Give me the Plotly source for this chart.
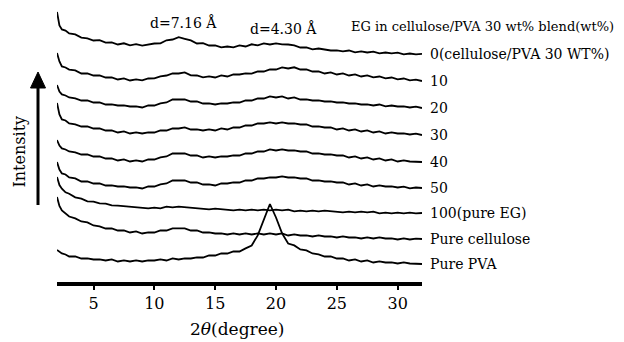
import plotly.graph_objects as go

# 2-theta sampling (degree)
two_theta = [2.0, 2.2, 2.4, 2.7, 3.0, 3.5, 4.0, 4.5, 5.0, 5.5, 6.0, 6.5, 7.0, 7.5, 8.0,
             8.5, 9.0, 9.5, 10.0, 10.5, 11.0, 11.5, 12.0, 12.5, 13.0, 13.5, 14.0, 14.5,
             15.0, 15.5, 16.0, 16.5, 17.0, 17.5, 18.0, 18.5, 19.0, 19.5, 20.0, 20.5,
             21.0, 21.5, 22.0, 22.5, 23.0, 23.5, 24.0, 24.5, 25.0, 25.5, 26.0, 26.5,
             27.0, 27.5, 28.0, 28.5, 29.0, 29.5, 30.0, 30.5, 31.0, 31.5, 32.0]

series_labels = ["0(cellulose/PVA 30 WT%)", "10", "20", "30", "40", "50",
                 "100(pure EG)", "Pure cellulose", "Pure PVA"]

# relative intensities (a.u.)
eg0 = [42, 28.5, 24.6, 23.4, 20.5, 19.6, 16.4, 15.7, 13.5, 13.8, 11.4, 11.6, 9.5, 10.7, 8.6,
       9.8, 8.4, 9.6, 10.5, 10.6, 13.7, 14.5, 16.8, 15.2, 13.6, 10.5, 10.8, 8.5, 8.7, 6.6,
       7.5, 6.6, 8.6, 7.5, 9.7, 8.6, 10.6, 9.5, 10.7, 9.6, 9.5, 8.6, 6.5, 6.7, 4.6, 5.5,
       4.6, 3.5, 3.7, 2.6, 3.5, 1.6, 2.6, 1.5, 2.4, 0.6, 1.5, 0.6, 1.4, -0.4, 0.5, -0.3, 0.2]
eg10 = [28, 19.5, 14.6, 13.5, 11.4, 10.6, 7.5, 7.7, 5.5, 5.6, 3.5, 3.7, 1.5, 2.6, 0.5, 1.6,
        0.6, 2.5, 2.6, 4.7, 5.5, 7.6, 7.5, 8.6, 5.6, 5.5, 3.6, 4.7, 3.5, 5.6, 4.5, 6.6, 6.5,
        7.7, 7.4, 9.6, 9.5, 11.6, 11.5, 13.6, 12.5, 13.7, 11.5, 11.6, 9.5, 9.7, 7.5, 8.6,
        6.5, 7.6, 5.5, 6.6, 4.5, 5.6, 3.6, 4.5, 2.6, 3.5, 1.6, 2.5, 0.6, 1.4, 0]
eg20 = [23, 16.5, 13.6, 12.5, 10.5, 9.6, 7.5, 7.6, 5.5, 5.7, 3.5, 3.6, 2.5, 2.6, 1.5, 1.6,
        0.5, 2.6, 2.5, 4.6, 5.5, 8.6, 8.5, 8.7, 6.5, 6.6, 4.5, 4.6, 3.5, 4.7, 4.5, 5.6, 5.5,
        7.6, 7.5, 9.6, 9.5, 11.6, 10.5, 11.6, 9.5, 10.6, 8.5, 8.6, 7.5, 7.6, 6.5, 6.6, 5.5,
        5.6, 4.5, 4.6, 3.5, 3.6, 2.5, 3.5, 1.6, 2.5, 1.5, 1.6, 0.5, 1.4, 0]
eg30 = [32, 20.5, 15.6, 14.5, 11.5, 10.6, 8.5, 8.6, 6.5, 6.6, 4.5, 4.6, 2.5, 3.6, 1.5, 2.6,
        1.5, 2.6, 2.5, 4.6, 4.5, 6.6, 6.5, 7.6, 5.5, 5.6, 4.5, 5.6, 4.5, 6.6, 5.5, 7.6, 7.5,
        9.6, 9.5, 11.6, 11.5, 12.6, 11.5, 12.6, 11.5, 11.6, 10.5, 10.6, 8.5, 8.6, 7.5, 7.6,
        5.5, 6.6, 4.5, 5.6, 3.5, 4.6, 2.5, 3.6, 1.5, 2.6, 1.5, 1.6, 0.5, 1.4, 0]
eg40 = [22, 16.5, 13.6, 12.5, 10.5, 9.6, 7.5, 7.6, 5.5, 5.6, 3.5, 3.6, 1.5, 2.6, 0.5, 1.6,
        0.5, 2.6, 2.5, 4.6, 5.5, 8.6, 8.5, 8.6, 6.5, 6.6, 4.5, 5.6, 4.5, 5.6, 5.5, 6.6, 6.5,
        8.6, 8.5, 10.6, 10.5, 12.6, 11.5, 12.6, 11.5, 11.6, 10.5, 10.6, 8.5, 8.6, 7.5, 7.6,
        6.5, 6.6, 4.5, 5.6, 3.5, 4.6, 2.5, 3.6, 1.5, 2.6, 0.5, 1.6, 0.5, 0.4, 0]
eg50 = [26, 18.5, 14.6, 13.5, 10.5, 9.6, 6.5, 6.6, 4.5, 4.6, 2.5, 2.6, 1.5, 1.6, 0.5, 0.6,
        -0.5, 1.6, 1.5, 3.6, 4.5, 7.6, 7.5, 7.6, 5.5, 5.6, 3.5, 3.6, 2.5, 4.6, 4.5, 5.6, 5.5,
        7.6, 7.5, 9.6, 9.5, 10.6, 10.5, 11.6, 10.5, 10.6, 9.5, 9.6, 7.5, 7.6, 6.5, 6.6, 5.5,
        5.6, 3.5, 4.6, 2.5, 3.6, 1.5, 2.6, 1.5, 1.6, 0.5, 1.4, -0.4, 0.5, 0]
eg100 = [36, 28, 24.3, 20.7, 19.3, 15.7, 14.3, 11.7, 11.3, 9.7, 9.3, 7.7, 7.3, 6.7, 6.3, 5.7,
         5.3, 4.7, 5.3, 4.7, 6.3, 5.7, 6.3, 5.7, 5.3, 4.7, 4.3, 3.7, 4.3, 3.7, 3.3, 2.7, 3.3,
         2.7, 3.3, 2.7, 3.3, 2.7, 3.3, 2.7, 3.3, 1.7, 2.3, 1.7, 2.3, 1.7, 2.3, 1.7, 1.3, 0.7,
         1.3, 0.7, 1.3, 0.7, 1.3, -0.3, 0.3, -0.3, 0.3, -0.3, 0.3, -0.3, 0]
cellulose = [42, 33, 28.6, 25.5, 22.5, 20.6, 17.5, 16.6, 13.5, 12.6, 10.5, 10.6, 8.5, 8.6, 6.5,
             7.6, 5.5, 6.6, 6.5, 8.6, 8.5, 10.6, 10.5, 10.6, 8.5, 8.6, 6.5, 6.6, 5.5, 5.6, 4.5,
             5.6, 4.5, 5.6, 4.5, 5.6, 4.5, 5.6, 4.5, 5.6, 3.5, 4.6, 3.5, 3.6, 2.5, 3.6, 2.5,
             2.6, 1.5, 2.6, 1.5, 1.6, 0.5, 1.6, 0.5, 1.6, 0.5, 0.6, -0.5, 0.6, -0.5, 0.4, 0]
pva = [14, 12.5, 10.6, 9.5, 7.5, 7.6, 5.5, 5.6, 4.5, 4.6, 3.5, 4.6, 2.5, 3.6, 2.5, 3.6, 2.5,
       3.6, 3.5, 4.6, 3.5, 5.6, 4.5, 5.6, 5.5, 6.6, 6.5, 8.6, 8.5, 10.6, 10.5, 12.6, 12.5,
       15.6, 18.5, 28.6, 44.5, 60, 46.5, 30.6, 20.5, 18.6, 14.5, 13.6, 10.5, 9.6, 7.5, 7.6,
       5.5, 5.6, 3.5, 4.6, 2.5, 3.6, 1.5, 2.6, 1.5, 1.6, 0.5, 1.6, 0.5, 0.4, 0]

series_values = [eg0, eg10, eg20, eg30, eg40, eg50, eg100, cellulose, pva]
# vertical stacking offsets (a.u.)
offsets = [228, 201, 174, 147, 120, 94, 69, 43, 18]

x_ticks = [5, 10, 15, 20, 25, 30]

# the page body has an 8px default margin: the figure sits at (8, 8)
PAGE = 8
W, H = 624 - PAGE, 342 - PAGE
PLOT_L, PLOT_R, PLOT_T, PLOT_B = 57, 422, 8, 282   # plot area in window pixels
ML, MR = PLOT_L - PAGE, 624 - PLOT_R
MT, MB = PLOT_T - PAGE, 342 - PLOT_B
PW, PH = PLOT_R - PLOT_L, PLOT_B - PLOT_T


def px(xp):
    return (xp - PLOT_L) / PW


def py(yp):
    return (PLOT_B - yp) / PH


SERIF = "DejaVu Serif"

fig = go.Figure()
for vals, off in zip(series_values, offsets):
    fig.add_trace(go.Scatter(x=two_theta, y=[v + off for v in vals], mode="lines",
                             line=dict(color="black", width=1.8), showlegend=False,
                             hoverinfo="skip"))

annotations = []
for lab, vals, off in zip(series_labels, series_values, offsets):
    annotations.append(dict(x=two_theta[-1], y=vals[-1] + off, xref="x", yref="y",
                            text=lab, showarrow=False, xanchor="left", yanchor="middle",
                            xshift=6, font=dict(family=SERIF, size=14, color="black")))

annotations += [
    dict(x=px(349), y=py(26), xref="paper", yref="paper",
         text="EG in cellulose/PVA 30 wt% blend(wt%)", showarrow=False,
         xanchor="left", yanchor="middle", font=dict(family=SERIF, size=13, color="black")),
    dict(x=px(148), y=py(23), xref="paper", yref="paper", text="d=7.16 Å",
         showarrow=False, xanchor="left", yanchor="middle",
         font=dict(family=SERIF, size=14, color="black")),
    dict(x=px(248), y=py(29), xref="paper", yref="paper", text="d=4.30 Å",
         showarrow=False, xanchor="left", yanchor="middle",
         font=dict(family=SERIF, size=14, color="black")),
    dict(x=px(237), y=py(329), xref="paper", yref="paper", text="2<i>θ</i>(degree)",
         showarrow=False, xanchor="center", yanchor="middle",
         font=dict(family=SERIF, size=17, color="black")),
    dict(x=px(18.5), y=py(152), xref="paper", yref="paper", text="Intensity",
         showarrow=False, xanchor="center", yanchor="middle", textangle=-90,
         font=dict(family=SERIF, size=16, color="black")),
]

shapes = [
    dict(type="line", xref="paper", yref="paper", x0=px(38), x1=px(38), y0=py(205),
         y1=py(86), line=dict(color="black", width=3)),
    dict(type="path", xref="paper", yref="paper",
         path=f"M {px(30.5)} {py(88)} L {px(45.5)} {py(88)} L {px(38)} {py(72)} Z",
         fillcolor="black", line=dict(color="black", width=1)),
]

fig.update_layout(
    width=W, height=H,
    margin=dict(l=ML, r=MR, t=MT, b=MB, pad=0),
    paper_bgcolor="white", plot_bgcolor="white",
    annotations=annotations, shapes=shapes,
    xaxis=dict(range=[2, 32], tickvals=x_ticks, showline=True, linecolor="black",
               linewidth=4, ticks="outside", ticklen=4, tickwidth=2, tickcolor="black",
               showgrid=False, zeroline=False,
               tickfont=dict(family=SERIF, size=16, color="black")),
    yaxis=dict(range=[0, PH], visible=False, showgrid=False, zeroline=False),
)

fig.write_html("out.html")
